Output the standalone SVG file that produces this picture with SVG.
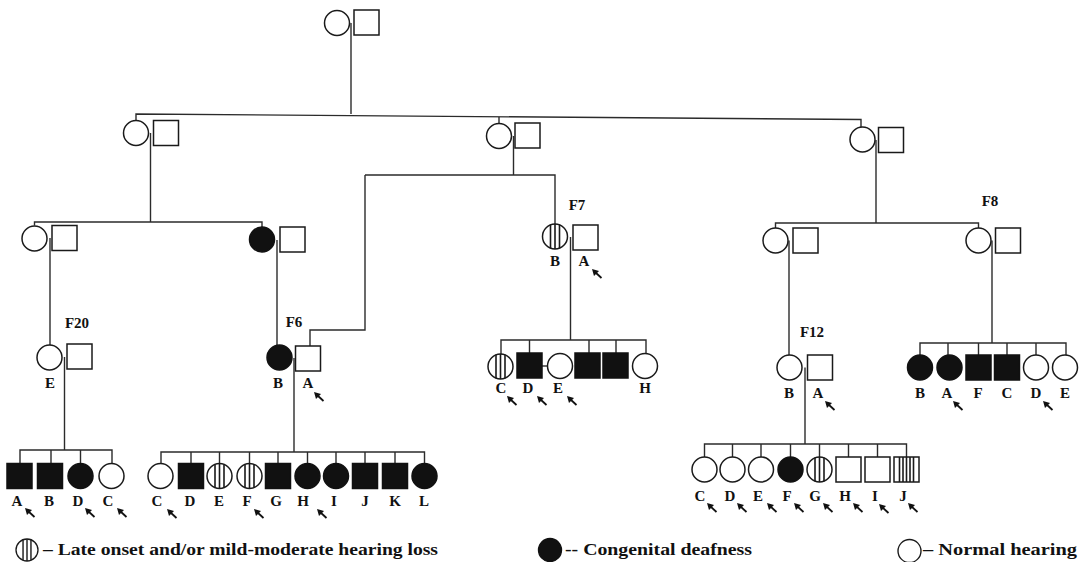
<svg xmlns="http://www.w3.org/2000/svg" width="1084" height="562" viewBox="0 0 1084 562">
<style>
.ln{fill:none;stroke:#2b2b2b;stroke-width:1.4}
.sym{fill:#fff;stroke:#1a1a1a;stroke-width:1.5}
.blk{fill:#111;stroke:#111;stroke-width:1.5}
.hat{stroke:#1a1a1a;stroke-width:1.6;fill:none}
.lbl{font-family:"Liberation Serif","Times New Roman",serif;font-weight:bold;font-size:15px;fill:#111;text-anchor:middle}
.fam{font-family:"Liberation Serif","Times New Roman",serif;font-weight:bold;font-size:15px;fill:#111;text-anchor:middle}
.leg{font-family:"Liberation Serif","Times New Roman",serif;font-weight:bold;font-size:16px;fill:#111}
</style>
<defs>
<g id="cN"><circle r="12.5" class="sym"/></g>
<g id="cA"><circle r="12.5" class="blk"/></g>
<g id="cH"><circle r="12.5" class="sym"/><path class="hat" d="M-4.5,-11.7V11.7M0,-12.5V12.5M4.5,-11.7V11.7"/></g>
<g id="sN"><rect x="-12.5" y="-12.5" width="25" height="25" class="sym"/></g>
<g id="sA"><rect x="-12.5" y="-12.5" width="25" height="25" class="blk"/></g>
<g id="sH"><rect x="-12.5" y="-12.5" width="25" height="25" class="sym"/><path class="hat" d="M-7,-12.5V12.5M-3.5,-12.5V12.5M0,-12.5V12.5M3.5,-12.5V12.5M7,-12.5V12.5"/></g>
<g id="ar"><path d="M0,0L7,2L2,7Z" fill="#111"/><path d="M3,3L9.5,9" stroke="#111" stroke-width="1.8"/></g>
</defs>

<g id="connectors" class="ln">
<path d="M351,23V114"/>
<path d="M136,120.5V114L861,119.5V127"/>
<path d="M499,117V123.5"/>
<path d="M150.5,133V222"/>
<path d="M34.5,225.5V222H262V227"/>
<path d="M513.5,136V175"/>
<path d="M365,175H555V224"/>
<path d="M365,175V330H310V346"/>
<path d="M876,140V223"/>
<path d="M775.5,228V223H978.5V228"/>
<path d="M50,238V345"/>
<path d="M277,240V345"/>
<path d="M570.5,237V340"/>
<path d="M501,354V340H646V353.5"/>
<path d="M529.5,340V353M589,340V353M616,340V353"/>
<path d="M542,366H547.5"/>
<path d="M789,240.5V355"/>
<path d="M992,240.5V343"/>
<path d="M920,355V343H1066V355"/>
<path d="M948,343V355M978.5,343V355M1007,343V355M1036,343V355"/>
<path d="M64.5,357V450"/>
<path d="M20,463.5V450H112V463.5"/>
<path d="M51,450V463.5M80.5,450V463.5"/>
<path d="M294,358V452"/>
<path d="M161,463.5V452H424.5V463.5"/>
<path d="M191,452V463.5M219.5,452V463.5M249.5,452V463.5M278,452V463.5M307.5,452V463.5M336,452V463.5M365,452V463.5M395,452V463.5"/>
<path d="M805,367.5V444"/>
<path d="M704.5,457V444H906.5V457"/>
<path d="M732.5,444V457M761,444V457M790.5,444V457M819.5,444V457M848.5,444V457M877.5,444V457"/>
</g>

<!-- Generation I -->
<g id="I-1"><use href="#cN" x="337" y="23"/></g>
<g id="I-2"><use href="#sN" x="366.5" y="22.5"/></g>

<!-- Generation II -->
<g id="II-1"><use href="#cN" x="136" y="133"/></g>
<g id="II-2"><use href="#sN" x="166" y="133"/></g>
<g id="II-3"><use href="#cN" x="499" y="136"/></g>
<g id="II-4"><use href="#sN" x="527.5" y="135.5"/></g>
<g id="II-5"><use href="#cN" x="862.5" y="139.5"/></g>
<g id="II-6"><use href="#sN" x="891" y="140"/></g>

<!-- Generation III -->
<g id="III-1"><use href="#cN" x="34.5" y="238.5"/></g>
<g id="III-2"><use href="#sN" x="64.5" y="238"/></g>
<g id="III-3"><use href="#cA" x="262" y="239.5"/></g>
<g id="III-4"><use href="#sN" x="292.5" y="239.5"/></g>
<g id="F7-B"><use href="#cH" x="555" y="236.5"/><text class="lbl" x="555" y="266">B</text></g>
<g id="F7-A"><use href="#sN" x="585.5" y="237.5"/><text class="lbl" x="584" y="266">A</text><use href="#ar" x="592" y="269"/></g>
<g id="III-7"><use href="#cN" x="775.5" y="240.5"/></g>
<g id="III-8"><use href="#sN" x="805.5" y="240.5"/></g>
<g id="III-9"><use href="#cN" x="978.5" y="240.5"/></g>
<g id="III-10"><use href="#sN" x="1008" y="240.5"/></g>

<!-- family labels -->
<g id="family-labels">
<text class="fam" x="77" y="328">F20</text>
<text class="fam" x="294" y="327">F6</text>
<text class="fam" x="577" y="210">F7</text>
<text class="fam" x="812" y="337">F12</text>
<text class="fam" x="990" y="206">F8</text>
</g>

<!-- Generation IV -->
<g id="F20-E"><use href="#cN" x="49.5" y="357.5"/><text class="lbl" x="50" y="388">E</text></g>
<g id="F20-spouse"><use href="#sN" x="79.5" y="356.5"/></g>
<g id="F6-B"><use href="#cA" x="279.5" y="357.5"/><text class="lbl" x="278" y="388">B</text></g>
<g id="F6-A"><use href="#sN" x="308" y="358.5"/><text class="lbl" x="308" y="388">A</text><use href="#ar" x="314" y="392"/></g>
<g id="F7-C"><use href="#cH" x="500.5" y="366.5"/><text class="lbl" x="501" y="393">C</text><use href="#ar" x="507" y="396"/></g>
<g id="F7-D"><use href="#sA" x="529.5" y="365.5"/><text class="lbl" x="528" y="393">D</text><use href="#ar" x="537" y="396"/></g>
<g id="F7-E"><use href="#cN" x="560" y="366"/><text class="lbl" x="558" y="393">E</text><use href="#ar" x="567" y="396"/></g>
<g id="F7-F"><use href="#sA" x="587.5" y="365.5"/></g>
<g id="F7-G"><use href="#sA" x="615.5" y="365.5"/></g>
<g id="F7-H"><use href="#cN" x="645" y="366"/><text class="lbl" x="645" y="393">H</text></g>
<g id="F12-B"><use href="#cN" x="789.5" y="367.5"/><text class="lbl" x="789" y="398">B</text></g>
<g id="F12-A"><use href="#sN" x="820" y="367.5"/><text class="lbl" x="818" y="398">A</text><use href="#ar" x="825" y="401"/></g>
<g id="F8-B"><use href="#cA" x="920" y="367.5"/><text class="lbl" x="920" y="398">B</text></g>
<g id="F8-A"><use href="#cA" x="949.5" y="367.5"/><text class="lbl" x="947" y="398">A</text><use href="#ar" x="953" y="401"/></g>
<g id="F8-F"><use href="#sA" x="978.5" y="367.5"/><text class="lbl" x="978" y="398">F</text></g>
<g id="F8-C"><use href="#sA" x="1007" y="367.5"/><text class="lbl" x="1007" y="398">C</text></g>
<g id="F8-D"><use href="#cN" x="1036" y="367.5"/><text class="lbl" x="1036" y="398">D</text><use href="#ar" x="1043" y="401"/></g>
<g id="F8-E"><use href="#cN" x="1065" y="367.5"/><text class="lbl" x="1065" y="398">E</text></g>

<!-- Generation V : F20 -->
<g id="F20-A"><use href="#sA" x="19.5" y="476"/><text class="lbl" x="17" y="506">A</text><use href="#ar" x="25" y="508"/></g>
<g id="F20-B"><use href="#sA" x="50" y="476"/><text class="lbl" x="49" y="506">B</text></g>
<g id="F20-D"><use href="#cA" x="80.5" y="476"/><text class="lbl" x="78" y="506">D</text><use href="#ar" x="85" y="508"/></g>
<g id="F20-C"><use href="#cN" x="111.5" y="476"/><text class="lbl" x="108" y="506">C</text><use href="#ar" x="117" y="508"/></g>

<!-- Generation V : F6 -->
<g id="F6-C"><use href="#cN" x="160.5" y="476"/><text class="lbl" x="157" y="506">C</text><use href="#ar" x="167" y="509"/></g>
<g id="F6-D"><use href="#sA" x="191" y="476"/><text class="lbl" x="190" y="506">D</text></g>
<g id="F6-E"><use href="#cH" x="219.5" y="476"/><text class="lbl" x="219" y="506">E</text></g>
<g id="F6-F"><use href="#cH" x="249.5" y="476"/><text class="lbl" x="247" y="506">F</text><use href="#ar" x="254" y="509"/></g>
<g id="F6-G"><use href="#sA" x="278" y="476"/><text class="lbl" x="276" y="506">G</text></g>
<g id="F6-H"><use href="#cA" x="307.5" y="476"/><text class="lbl" x="303" y="506">H</text><use href="#ar" x="317" y="509"/></g>
<g id="F6-I"><use href="#cA" x="336" y="476"/><text class="lbl" x="334" y="506">I</text></g>
<g id="F6-J"><use href="#sA" x="365" y="476"/><text class="lbl" x="365" y="506">J</text></g>
<g id="F6-K"><use href="#sA" x="395" y="476"/><text class="lbl" x="395" y="506">K</text></g>
<g id="F6-L"><use href="#cA" x="424.5" y="476"/><text class="lbl" x="424" y="506">L</text></g>

<!-- Generation V : F12 -->
<g id="F12-C"><use href="#cN" x="704.5" y="469.5"/><text class="lbl" x="700" y="501">C</text><use href="#ar" x="707" y="503"/></g>
<g id="F12-D"><use href="#cN" x="732.5" y="469.5"/><text class="lbl" x="730" y="501">D</text><use href="#ar" x="737" y="503"/></g>
<g id="F12-E"><use href="#cN" x="761" y="469.5"/><text class="lbl" x="758" y="501">E</text><use href="#ar" x="767" y="503"/></g>
<g id="F12-F"><use href="#cA" x="790.5" y="469.5"/><text class="lbl" x="787" y="501">F</text><use href="#ar" x="794" y="503"/></g>
<g id="F12-G"><use href="#cH" x="819.5" y="469.5"/><text class="lbl" x="815" y="501">G</text><use href="#ar" x="823" y="503"/></g>
<g id="F12-H"><use href="#sN" x="848.5" y="469.5"/><text class="lbl" x="845" y="501">H</text><use href="#ar" x="853" y="503"/></g>
<g id="F12-I"><use href="#sN" x="877.5" y="469.5"/><text class="lbl" x="875" y="501">I</text><use href="#ar" x="879" y="504"/></g>
<g id="F12-J"><use href="#sH" x="906.5" y="469.5"/><text class="lbl" x="903" y="501">J</text><use href="#ar" x="908" y="503"/></g>

<!-- Legend -->
<g id="legend-late">
<g transform="translate(27,550) scale(0.88)"><use href="#cH"/></g>
<text class="leg" x="43" y="555" textLength="395" lengthAdjust="spacingAndGlyphs">– Late onset and/or mild-moderate hearing loss</text>
</g>
<g id="legend-congenital">
<g transform="translate(550,550) scale(0.92)"><use href="#cA"/></g>
<text class="leg" x="565" y="555" textLength="187" lengthAdjust="spacingAndGlyphs">-- Congenital deafness</text>
</g>
<g id="legend-normal">
<g transform="translate(909.5,551) scale(0.92)"><use href="#cN"/></g>
<text class="leg" x="923" y="555" textLength="154" lengthAdjust="spacingAndGlyphs">– Normal hearing</text>
</g>
</svg>
